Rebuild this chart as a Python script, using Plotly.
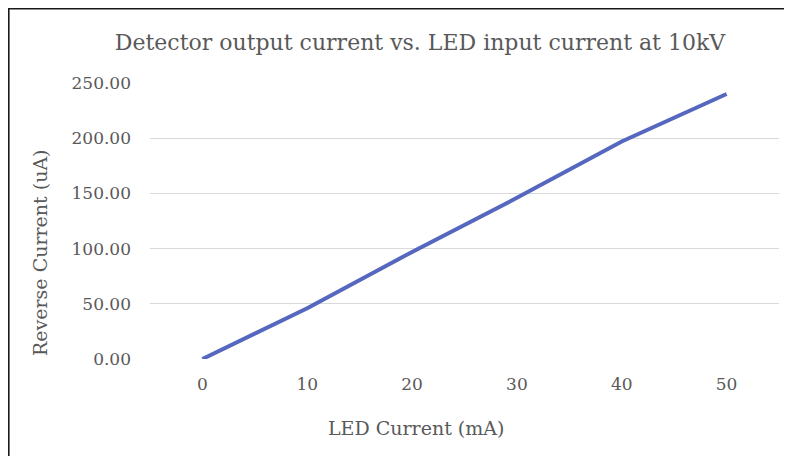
import plotly.graph_objects as go

led_current = ["0", "10", "20", "30", "40", "50"]
reverse_current = [0.0, 46.0, 97.0, 146.0, 197.0, 240.0]
y_ticks = [0, 50, 100, 150, 200, 250]

# page has an 8px body margin, so the figure is 8px smaller than the window
W, H = 784, 448
ML, MR, MT, MB = 142, 13, 75, 97
PW = W - ML - MR
PH = H - MT - MB

font = "DejaVu Serif"
grey = "#595959"

fig = go.Figure()
fig.add_trace(go.Scatter(
    x=led_current, y=reverse_current, mode="lines",
    line=dict(color="#5567BE", width=4),
    hoverinfo="skip", showlegend=False,
))

def px_to_paper_x(px):
    return (px - ML) / PW

def px_to_paper_y(py):
    return (H - MB - py) / PH

fig.update_layout(
    width=W, height=H,
    margin=dict(l=ML, r=MR, t=MT, b=MB),
    paper_bgcolor="white", plot_bgcolor="white",
    title=dict(text="Detector output current vs. LED input current at 10kV",
               x=412 / W, xanchor="center", xref="container",
               y=1 - 34 / H, yanchor="middle", yref="container",
               font=dict(family=font, size=22, color=grey)),
    xaxis=dict(type="category", range=[-0.5, 5.5], showgrid=False, showline=False,
               zeroline=False, ticks="", automargin=False, ticklabelstandoff=13,
               tickfont=dict(family=font, size=17, color=grey)),
    yaxis=dict(range=[0, 250], tickvals=y_ticks, tickformat=".2f",
               showgrid=True, gridcolor="#D9D9D9", gridwidth=1.3,
               zeroline=False, showline=False, ticks="", automargin=False,
               ticklabelstandoff=18,
               tickfont=dict(family=font, size=17, color=grey)),
    annotations=[
        dict(text="LED Current (mA)", xref="paper", yref="paper",
             x=px_to_paper_x(408), y=px_to_paper_y(420),
             xanchor="center", yanchor="middle", showarrow=False,
             font=dict(family=font, size=19, color=grey)),
        dict(text="Reverse Current (uA)", xref="paper", yref="paper",
             x=px_to_paper_x(32), y=px_to_paper_y(245), textangle=-90,
             xanchor="center", yanchor="middle", showarrow=False,
             font=dict(family=font, size=19, color=grey)),
    ],
    shapes=[
        dict(type="line", xref="paper", yref="paper",
             x0=px_to_paper_x(0), x1=px_to_paper_x(800),
             y0=px_to_paper_y(0.8), y1=px_to_paper_y(0.8),
             line=dict(color="#1a1a1a", width=1.6)),
        dict(type="line", xref="paper", yref="paper",
             x0=px_to_paper_x(0.8), x1=px_to_paper_x(0.8),
             y0=px_to_paper_y(0), y1=px_to_paper_y(470),
             line=dict(color="#1a1a1a", width=1.6)),
    ],
)
fig.write_html("out.html")
